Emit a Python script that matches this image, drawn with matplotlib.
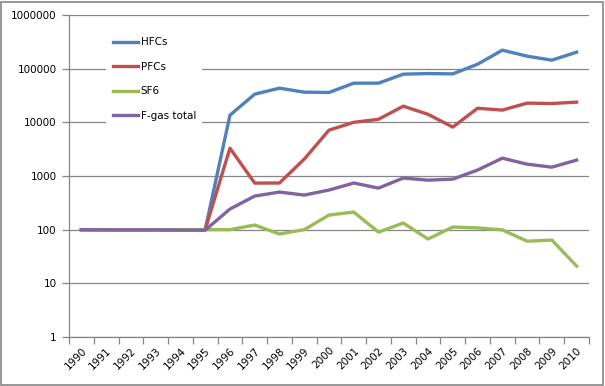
import numpy as np
import matplotlib.pyplot as plt
from matplotlib.patches import Rectangle
from matplotlib.ticker import FixedLocator, FuncFormatter

years = [str(y) for y in range(1990, 2011)]

hfcs = [100, 100, 100, 100, 100, 100, 13600, 33500, 43300, 36500, 36000,
        53700, 53700, 79000, 81000, 80000, 121000, 221000, 171000, 144000, 203000]
pfcs = [100, 100, 100, 100, 100, 100, 3300, 738, 740, 2065, 7160,
        10000, 11400, 20000, 14100, 8150, 18300, 16900, 22800, 22400, 23800]
sf6 = [100, 100, 100, 100, 100, 100, 100, 122, 83, 100, 187,
       213, 90, 133, 67, 112, 108, 99, 61, 64, 21]
fgas_total = [100, 99, 99, 99, 98, 98, 242, 423, 502, 441, 547,
              740, 595, 917, 836, 875, 1290, 2150, 1660, 1460, 1980]

series = [('HFCs', hfcs, '#4F81BD'),
          ('PFCs', pfcs, '#C0504D'),
          ('SF6', sf6, '#9BBB59'),
          ('F-gas total', fgas_total, '#8064A2')]

plt.rcParams['font.family'] = ['DejaVu Sans']

fig = plt.figure(figsize=(6.05, 3.86), dpi=100)
ax = fig.add_axes([69 / 605, 1 - 337 / 386, 520 / 605, 322 / 386])

x = np.arange(len(years))
for name, vals, col in series:
    ax.plot(x, vals, color=col, lw=2.4, label=name, solid_joinstyle='round')

ax.set_yscale('log')
ax.set_ylim(1, 1e6)
ax.set_xlim(-0.5, len(years) - 0.5)
ax.yaxis.set_major_locator(FixedLocator([10 ** k for k in range(7)]))
ax.yaxis.set_minor_locator(FixedLocator([]))
ax.yaxis.set_major_formatter(FuncFormatter(lambda v, p: f'{int(round(v))}'))
ax.grid(axis='y', color='#868686', lw=0.9)
ax.set_axisbelow(True)

ax.set_xticks(x)
ax.set_xticklabels(years, rotation=45, ha='right', rotation_mode='anchor')
ax.set_xticks(np.arange(-0.5, len(years)), minor=True)
ax.tick_params(axis='x', which='major', length=0, labelsize=7.5, pad=6)
ax.tick_params(axis='x', which='minor', length=5, color='#868686', width=0.9)
ax.tick_params(axis='y', which='major', length=5, color='#868686', width=0.9,
               labelsize=7.5, pad=4)

for s in ['top', 'right']:
    ax.spines[s].set_visible(False)
for s in ['left', 'bottom']:
    ax.spines[s].set_color('#868686')
    ax.spines[s].set_linewidth(0.9)

leg = ax.legend(loc='upper left', bbox_to_anchor=(0.062, 0.966), frameon=True,
                fontsize=7.5, handlelength=2.4, labelspacing=1.38, borderpad=0.6,
                handletextpad=0.3)
leg.get_frame().set_edgecolor('none')
leg.get_frame().set_facecolor('white')
leg.get_frame().set_alpha(1)

fig.patches.append(Rectangle((0.5 / 605, 1.5 / 386), 602 / 605, 383 / 386,
                             transform=fig.transFigure, fill=False,
                             edgecolor='#868686', lw=1.2))

fig.savefig('out.png', dpi=100)
